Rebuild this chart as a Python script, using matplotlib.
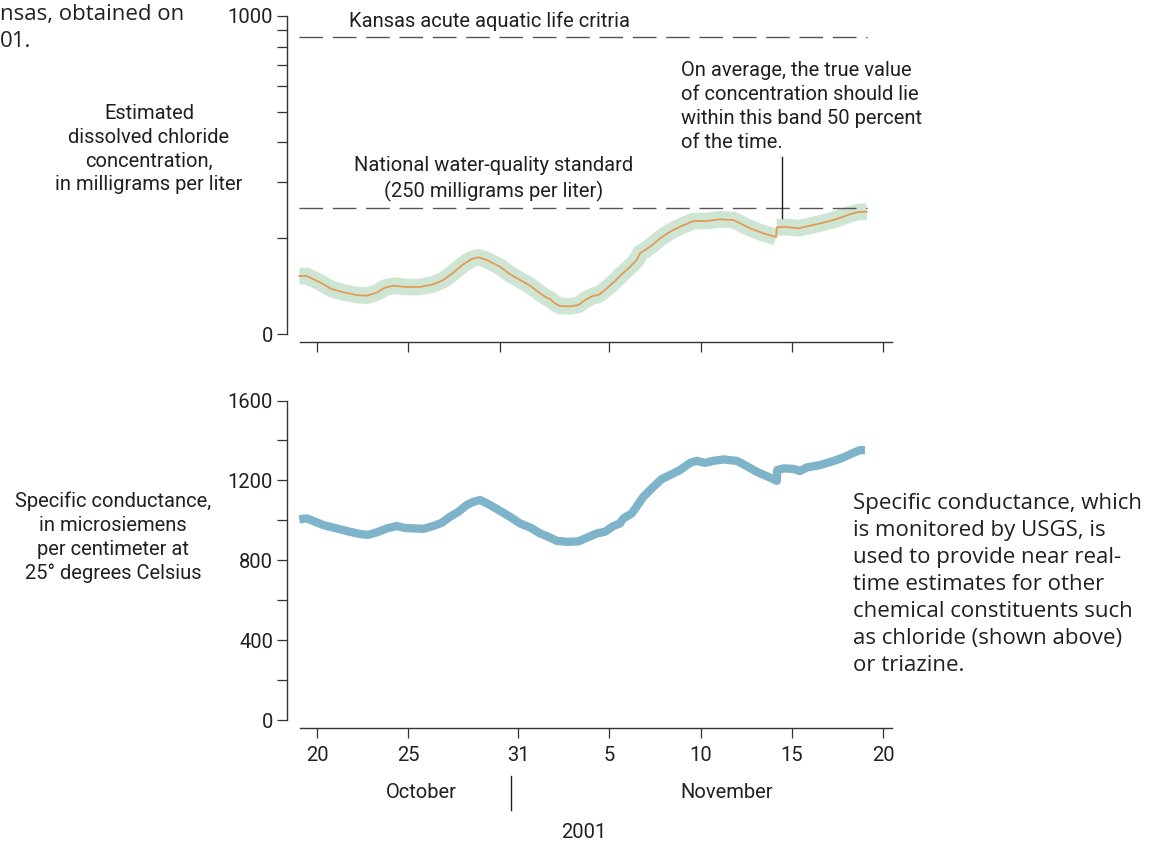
import numpy as np
import pandas as pd
import matplotlib
matplotlib.use('Agg')
import matplotlib.pyplot as plt
import matplotlib.dates as mdates

plt.rcParams['font.family'] = ['Roboto', 'DejaVu Sans']

# days are counted as "day of October 2001" (32 = Nov 1)
chl_days = [19.02, 19.42, 20.15, 20.79, 21.43, 22.16, 22.71, 23.26, 23.71, 24.17,
            24.90, 25.63, 26.36, 26.91, 27.45, 28.00, 28.46, 28.82, 29.28, 30.01,
            30.56, 31.11, 31.66, 32.21, 32.57, 32.75, 33.02, 33.30, 33.85, 34.30,
            34.67, 35.12, 35.40, 35.86, 36.31, 36.77, 37.14, 37.50, 37.68, 38.23,
            38.78, 39.32, 39.87, 40.60, 41.33, 42.06, 42.79, 43.16, 43.71, 44.43,
            45.13, 45.17, 45.72, 46.35, 46.99, 47.72, 48.45, 49.18, 49.64, 50.10]
chloride = [152.4, 152.4, 145.6, 138.7, 135.5, 132.8, 132.2, 135.1, 140.1, 142.1,
            140.8, 140.8, 143.5, 148.1, 156.1, 165.9, 172.3, 174.5, 171.1, 163.0,
            154.3, 148.1, 142.1, 134.5, 130.3, 129.1, 125.1, 122.7, 122.4, 123.6,
            128.1, 132.2, 132.8, 139.4, 147.0, 156.1, 163.0, 171.1, 179.6, 188.4,
            200.1, 209.9, 217.6, 226.8, 226.8, 229.6, 228.5, 223.0, 215.1, 207.5,
            202.0, 216.7, 217.2, 215.1, 219.2, 224.0, 230.1, 238.1, 242.1, 242.6]
band_break = 45.15

sc_days = [19.02, 19.42, 19.79, 20.33, 21.07, 21.80, 22.34, 22.80, 23.26, 23.81,
           24.35, 24.81, 25.36, 25.81, 26.36, 26.82, 27.27, 27.73, 28.19, 28.55,
           28.92, 29.37, 30.01, 30.56, 31.11, 31.66, 32.21, 32.66, 33.12, 33.67,
           34.30, 34.76, 35.31, 35.76, 36.22, 36.58, 36.77, 37.23, 37.59, 37.86,
           38.41, 38.87, 39.32, 39.87, 40.42, 40.79, 41.24, 41.69, 42.24, 42.98,
           43.52, 44.07, 44.71, 45.17, 45.20, 45.53, 46.08, 46.44, 46.81, 47.54,
           48.27, 48.81, 49.36, 49.73, 50.00]
conductance = [1006, 1010, 997, 977, 960, 943, 932, 928, 940, 960,
               972, 962, 960, 958, 972, 988, 1018, 1043, 1077, 1093,
               1102, 1082, 1048, 1018, 985, 965, 935, 918, 898, 893,
               895, 913, 935, 943, 972, 985, 1010, 1035, 1082, 1118,
               1168, 1207, 1227, 1252, 1288, 1298, 1288, 1298, 1305, 1298,
               1272, 1243, 1218, 1198, 1252, 1260, 1258, 1247, 1265, 1277,
               1297, 1315, 1338, 1352, 1352]

kansas_acute = 860
national_std = 250
note_day = 45.44
note_range = (232, 361)

top_ticks = [20, 25, 30, 36, 41, 46, 51]
bottom_ticks = [20, 25, 31, 36, 41, 46, 51]
bottom_labels = ['20', '25', '31', '5', '10', '15', '20']
chl_ticks = [100, 200, 300, 400, 500, 600, 700, 800, 900, 1000]
chl_labels = ['0', '', '', '', '', '', '', '', '', '1000']
sc_ticks = list(range(0, 1601, 200))
sc_labels = ['0', '', '400', '', '800', '', '1200', '', '1600']

start = pd.Timestamp('2001-10-01')
def to_date(d):
    return start + pd.to_timedelta(np.asarray(d, dtype=float) - 1, unit='D')

W, H = 1155, 846
fig = plt.figure(figsize=(W / 100, H / 100), dpi=100)

def px_axes(left, top, right, bottom):
    return fig.add_axes([left / W, 1 - bottom / H, (right - left) / W, (bottom - top) / H])

def px_text(x, y, s, **kw):
    fig.text(x / W, 1 - y / H, s, **kw)

ink = '#231f20'
green = '#cfe5d3'
orange = '#e39b52'
blue = '#7db4ca'
dash = '#555555'
xlim = (to_date(18.346), to_date(51.48))
fs = 14.5
side = ['Open Sans', 'DejaVu Sans']

def style(ax):
    for s in ['top', 'right']:
        ax.spines[s].set_visible(False)
    for s in ['left', 'bottom']:
        ax.spines[s].set_color('#333333')
        ax.spines[s].set_linewidth(1.0)
    ax.spines['bottom'].set_bounds(mdates.date2num(to_date(19.05)), mdates.date2num(xlim[1]))
    ax.tick_params(colors='#333333', labelcolor=ink, length=7, width=0.9,
                   labelsize=fs, pad=3)
    ax.tick_params(axis='x', pad=6)

# top panel: chloride
ax1 = px_axes(287, 15.7, 892, 342)
ax1.set_yscale('log')
ax1.set_ylim(94.6, 1000)
ax1.set_xlim(*xlim)
style(ax1)
ax1.spines['left'].set_bounds(100, 1000)
ax1.set_yticks(chl_ticks)
ax1.set_yticklabels(chl_labels)
ax1.yaxis.set_minor_locator(matplotlib.ticker.NullLocator())
ax1.set_xticks(to_date(top_ticks))
ax1.set_xticklabels([])

cd = np.array(chl_days)
cv = np.array(chloride)
for m in [cd < band_break, cd >= band_break]:
    ax1.plot(to_date(cd[m]), cv[m], color=green, lw=12, solid_capstyle='butt',
             solid_joinstyle='round')
ax1.plot(to_date(cd), cv, color=orange, lw=1.3)
ax1.hlines([kansas_acute, national_std], to_date(chl_days[0]), to_date(chl_days[-1]),
           colors=dash, lw=1.0, linestyles=(0, (17, 7)))
ax1.plot(to_date([note_day, note_day]), note_range, color=ink, lw=1.0)

# bottom panel: specific conductance
ax2 = px_axes(287, 400.5, 892, 728)
ax2.set_ylim(-38.5, 1600)
ax2.set_xlim(*xlim)
style(ax2)
ax2.spines['left'].set_bounds(0, 1600)
ax2.set_yticks(sc_ticks)
ax2.set_yticklabels(sc_labels)
ax2.set_xticks(to_date(bottom_ticks))
ax2.set_xticklabels(bottom_labels)
ax2.plot(to_date(sc_days), conductance, color=blue, lw=6, solid_capstyle='butt',
         solid_joinstyle='round')

# text
px_text(0, 28, 'nsas, obtained on\n01.', fontsize=16, color=ink, va='center',
        linespacing=1.38, family=side)
px_text(149, 149, 'Estimated\ndissolved chloride\nconcentration,\nin milligrams per liter',
        fontsize=fs, color=ink, ha='center', va='center', linespacing=1.33)
px_text(113, 537.5, 'Specific conductance,\nin microsiemens\nper centimeter at\n25° degrees Celsius',
        fontsize=fs, color=ink, ha='center', va='center', linespacing=1.31)
px_text(349, 21, 'Kansas acute aquatic life critria', fontsize=fs, color=ink, va='center')
px_text(494, 179, 'National water-quality standard\n(250 milligrams per liter)',
        fontsize=fs, color=ink, ha='center', va='center', linespacing=1.33)
px_text(681, 106.5, 'On average, the true value\nof concentration should lie\n'
        'within this band 50 percent\nof the time.',
        fontsize=fs, color=ink, va='center', linespacing=1.33)
px_text(853, 584.5, 'Specific conductance, which\nis monitored by USGS, is\n'
        'used to provide near real-\ntime estimates for other\n'
        'chemical constituents such\nas chloride (shown above)\nor triazine.',
        fontsize=16, color=ink, va='center', linespacing=1.38, family=side)
px_text(421, 792, 'October', fontsize=fs, color=ink, ha='center', va='center')
px_text(727, 792, 'November', fontsize=fs, color=ink, ha='center', va='center')
px_text(584, 832, '2001', fontsize=fs, color=ink, ha='center', va='center')
fig.add_artist(plt.Line2D([511 / W, 511 / W], [1 - 776 / H, 1 - 810 / H], color=ink, lw=1.0))

fig.savefig('out.png', dpi=100)
